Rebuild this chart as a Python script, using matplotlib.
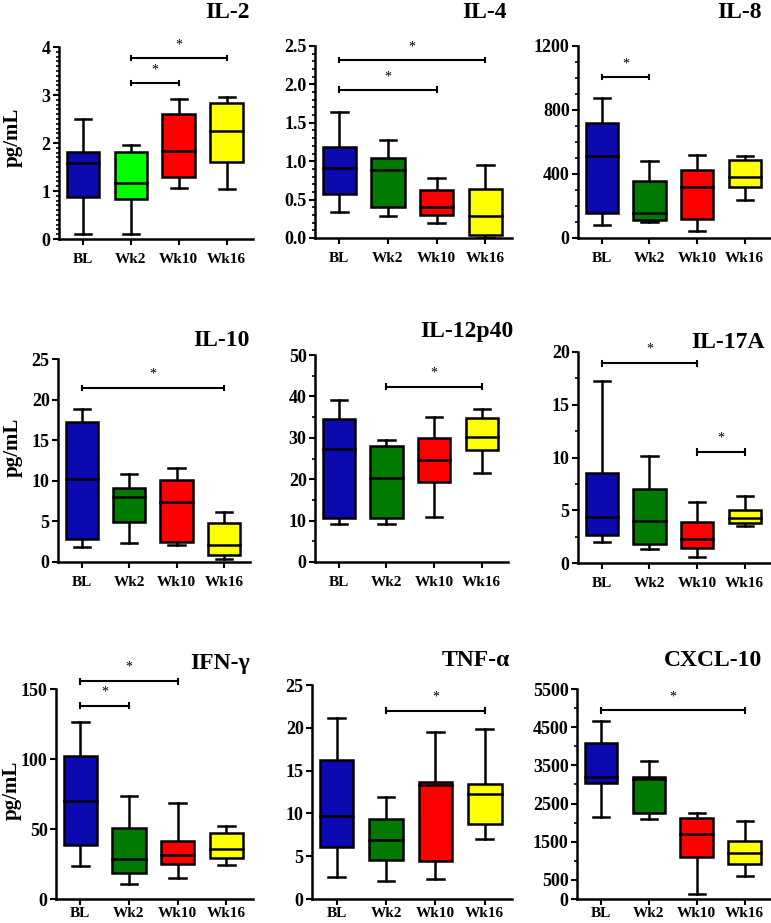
"""Cytokine levels at BL, Wk2, Wk10, Wk16 - 3x3 grid of box plots."""
import matplotlib
matplotlib.use("Agg")
import matplotlib.pyplot as plt
from matplotlib.ticker import FixedLocator, MultipleLocator

plt.rcParams["font.family"] = ["Liberation Serif", "DejaVu Serif"]

W, H = 771, 923
GROUPS = ["BL", "Wk2", "Wk10", "Wk16"]
BLUE, GREEN, RED, YELLOW = "#0a0ab0", "#007a00", "#ff0000", "#ffff00"
LIME = "#00ff00"

# each box: (whisker_low, q1, median, q3, whisker_high) for BL, Wk2, Wk10, Wk16
il2 = [(0.11, 0.87, 1.59, 1.82, 2.51), (0.11, 0.84, 1.17, 1.81, 1.95),
       (1.06, 1.29, 1.84, 2.61, 2.92), (1.04, 1.60, 2.24, 2.83, 2.96)]
il4 = [(0.34, 0.57, 0.91, 1.18, 1.64), (0.28, 0.40, 0.89, 1.04, 1.27),
       (0.20, 0.30, 0.41, 0.63, 0.78), (0.0, 0.04, 0.29, 0.64, 0.95)]
il8 = [(81, 158, 513, 718, 876), (98, 110, 154, 355, 480),
       (44, 120, 318, 424, 517), (239, 318, 384, 488, 515)]
il10 = [(1.85, 2.83, 10.26, 17.24, 18.84), (2.30, 4.93, 8.0, 9.15, 10.88),
        (2.05, 2.46, 7.39, 10.06, 11.58), (0.33, 0.82, 2.05, 4.76, 6.16)]
il12 = [(9.2, 10.6, 27.3, 34.6, 39.1), (9.2, 10.6, 20.3, 28.1, 29.5),
        (10.8, 19.4, 24.6, 30.0, 35.0), (21.4, 27.0, 30.3, 34.8, 37.0)]
il17 = [(1.99, 2.69, 4.39, 8.53, 17.22), (1.36, 1.83, 4.01, 7.05, 10.14),
        (0.60, 1.42, 2.27, 3.85, 5.78), (3.51, 3.79, 4.27, 5.02, 6.32)]
ifng = [(23.8, 38.7, 70.1, 102.2, 126.7), (10.9, 18.5, 28.3, 50.6, 73.9),
        (15.2, 25.0, 31.6, 41.1, 68.5), (24.5, 29.0, 35.7, 47.1, 51.8)]
tnfa = [(2.57, 6.07, 9.64, 16.21, 21.11), (2.06, 4.51, 6.92, 9.33, 11.86),
        (2.33, 4.47, 13.3, 13.65, 19.48), (7.04, 8.75, 12.25, 13.45, 19.87)]
cxcl10 = [(2157, 3043, 3200, 4087, 4652), (2104, 2252, 3130, 3200, 3609),
          (130, 1113, 1696, 2113, 2252), (609, 913, 1209, 1522, 2052)]

# significance brackets: (from group, to group, height)
sig_il2 = [(1, 2, 3.25), (1, 3, 3.77)]
sig_il4 = [(0, 2, 1.93), (0, 3, 2.32)]
sig_il8 = [(0, 1, 1007)]
sig_il10 = [(0, 3, 21.43)]
sig_il12 = [(1, 3, 42.3)]
sig_il17 = [(0, 2, 18.93), (2, 3, 10.52)]
sig_ifng = [(0, 1, 138.1), (0, 2, 155.7)]
sig_tnfa = [(1, 3, 22.0)]
sig_cxcl10 = [(0, 3, 4939)]

yticks_il2 = [0, 1, 2, 3, 4]
yticks_il4 = [0.0, 0.5, 1.0, 1.5, 2.0, 2.5]
yticks_il8 = [0, 400, 800, 1200]
yticks_il10 = [0, 5, 10, 15, 20, 25]
yticks_il12 = [0, 10, 20, 30, 40, 50]
yticks_il17 = [0, 5, 10, 15, 20]
yticks_ifng = [0, 50, 100, 150]
yticks_tnfa = [0, 5, 10, 15, 20, 25]
yticks_cxcl10 = [0, 500, 1500, 2500, 3500, 4500, 5500]

# panel layout in pixels: (left, right, y of zero, y of top), title right edge and centre
PANELS = [
    ("IL-2", il2, sig_il2, yticks_il2, "{:g}", 0.1, (59, 253, 239, 47), (250, 12), LIME),
    ("IL-4", il4, sig_il4, yticks_il4, "{:.1f}", 0.1, (315, 512, 238, 46), (507, 12), GREEN),
    ("IL-8", il8, sig_il8, yticks_il8, "{:g}", 100, (578, 771, 238, 46), (762, 12), GREEN),
    ("IL-10", il10, sig_il10, yticks_il10, "{:g}", None, (58, 250, 562, 359), (250, 340), GREEN),
    ("IL-12p40", il12, sig_il12, yticks_il12, "{:g}", 5, (315, 508, 562, 355), (513, 332), GREEN),
    ("IL-17A", il17, sig_il17, yticks_il17, "{:g}", 2.5, (578, 771, 563, 352), (765, 343), GREEN),
    ("IFN-γ", ifng, sig_ifng, yticks_ifng, "{:g}", None, (56, 253, 899, 689), (250, 663), GREEN),
    ("TNF-α", tnfa, sig_tnfa, yticks_tnfa, "{:g}", None, (312, 512, 899, 685), (510, 660), GREEN),
    ("CXCL-10", cxcl10, sig_cxcl10, yticks_cxcl10, "{:g}", "cx", (577, 771, 899, 689), (762, 660), GREEN),
]
YLABEL_POS = [(13, 137), (13, 447), (12, 790)]


def draw_box(ax, x, stats, color, width=0.68):
    lo, q1, med, q3, hi = stats
    lw = 1.8
    ax.add_patch(plt.Rectangle((x - width / 2, q1), width, q3 - q1,
                               facecolor=color, edgecolor="black", lw=lw, zorder=3))
    ax.plot([x - width / 2, x + width / 2], [med, med], color="black", lw=lw, zorder=4)
    ax.plot([x, x], [q3, hi], color="black", lw=lw, zorder=2)
    ax.plot([x, x], [lo, q1], color="black", lw=lw, zorder=2)
    cap = width * 0.25
    ax.plot([x - cap, x + cap], [hi, hi], color="black", lw=lw, zorder=2)
    ax.plot([x - cap, x + cap], [lo, lo], color="black", lw=lw, zorder=2)


def draw_sig(ax, i, j, y, ymax):
    cap = ymax * 0.012
    ax.plot([i, j], [y, y], color="black", lw=1.5, clip_on=False)
    ax.plot([i, i], [y - cap, y + cap], color="black", lw=1.5, clip_on=False)
    ax.plot([j, j], [y - cap, y + cap], color="black", lw=1.5, clip_on=False)
    ax.text((i + j) / 2, y + ymax * 0.035, "*", ha="center", va="bottom",
            fontsize=10, clip_on=False)


fig = plt.figure(figsize=(W / 100, H / 100), dpi=100)

for n, (title, data, sigs, yticks, fmt, minor, box, tpos, wk2color) in enumerate(PANELS):
    left, right, y0, ytop = box
    ax = fig.add_axes([left / W, 1 - y0 / H, (right - left) / W, (y0 - ytop) / H])
    colors = [BLUE, wk2color, RED, YELLOW]
    for k, stats in enumerate(data):
        draw_box(ax, k, stats, colors[k])
    ymax = yticks[-1]
    for i, j, y in sigs:
        draw_sig(ax, i, j, y, ymax)

    ax.set_xlim(-0.5, 3.55)
    ax.set_ylim(0, ymax)
    ax.spines["top"].set_visible(False)
    ax.spines["right"].set_visible(False)
    for s in ("left", "bottom"):
        ax.spines[s].set_linewidth(1.8)
    ax.set_xticks(range(4))
    ax.set_xticklabels(GROUPS, fontweight="bold", fontsize=11)
    ax.set_yticks(yticks)
    ax.set_yticklabels([fmt.format(v) for v in yticks], fontweight="bold", fontsize=13)
    ax.tick_params(axis="both", width=1.5, length=4, pad=2)
    # bottom row sits right at the lower edge of the figure
    ax.tick_params(axis="x", pad=2 if n >= 6 else 6)
    if minor == "cx":
        ax.yaxis.set_minor_locator(FixedLocator([1000, 2000, 3000, 4000, 5000]))
    elif minor:
        ax.yaxis.set_minor_locator(MultipleLocator(minor))
    ax.tick_params(axis="y", which="minor", width=1.2, length=2.5)

    fig.text(tpos[0] / W, 1 - tpos[1] / H, title, ha="right", va="center",
             fontsize=17, fontweight="bold")

for x, y in YLABEL_POS:
    fig.text(x / W, 1 - y / H, "pg/mL", rotation=90, ha="center", va="center",
             fontsize=15, fontweight="bold")

plt.savefig("out.png", dpi=100)
plt.close()
